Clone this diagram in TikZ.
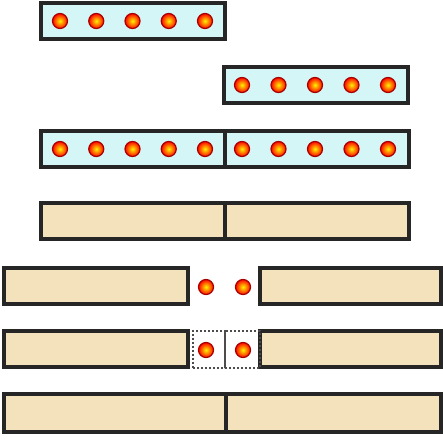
\documentclass[tikz,border=0pt]{standalone}
\usetikzlibrary{positioning}
\definecolor{iceblue}{RGB}{212,246,246}
\definecolor{sand}{RGB}{244,226,188}
\begin{document}
\begin{tikzpicture}[
    x=1pt, y=-1pt,
    bar/.style={draw=black!85, line width=3.4pt, minimum height=36pt, inner sep=0pt},
    bluebar/.style={bar, fill=iceblue, minimum width=184pt},
    sandbar/.style={bar, fill=sand},
    dot/.style={circle, inner sep=0pt, minimum size=15pt, draw=red!65!black, line width=1.2pt,
        inner color=yellow!90!orange, outer color=red!95!orange},
    gapbox/.style={draw=black!70, dash pattern=on 2pt off 2pt, line width=2pt,
        minimum height=37pt, inner sep=0pt}
]
\useasboundingbox (0,0) rectangle (443,441);

% row 1: left strand
\node[bluebar] (strA) at (133,21) {};
\foreach \i in {0,...,4}
    \node[dot] (dA\i) at (60+36.25*\i,21) {};

% row 2: right strand
\node[bluebar] (strB) at (316,85) {};
\foreach \i in {0,...,4}
    \node[dot] (dB\i) at (242+36.5*\i,85) {};

% row 3: both strands joined
\node[bluebar] (strCl) at (133,149) {};
\node[bluebar] (strCr) at (317,149) {};
\foreach \i in {0,...,4} {
    \node[dot] (dCl\i) at (60+36.25*\i,149) {};
    \node[dot] (dCr\i) at (242+36.5*\i,149) {};
}

% row 4: plain bars
\node[sandbar, minimum width=184pt] (barDl) at (133,221) {};
\node[sandbar, minimum width=184pt] (barDr) at (317,221) {};

% row 5: bars pulled apart
\node[sandbar, minimum width=184pt] (barEl) at (96,286) {};
\node[sandbar, minimum width=181pt] (barEr) at (350.5,286) {};
\node[dot] (dEl) at (206,287) {};
\node[dot] (dEr) at (243,287) {};

% row 6: gap filled
\node[sandbar, minimum width=184pt] (barFl) at (96,349) {};
\node[sandbar, minimum width=181pt] (barFr) at (350.5,349) {};
\node[gapbox, minimum width=32pt] (gapl) at (209,349) {};
\node[gapbox, minimum width=35pt] (gapr) at (242.5,349) {};
\node[dot] (dFl) at (206,350) {};
\node[dot] (dFr) at (243,350) {};

% row 7: full length
\node[sandbar, minimum width=222pt, minimum height=38pt] (barGl) at (115,413) {};
\node[sandbar, minimum width=215pt, minimum height=38pt] (barGr) at (333.5,413) {};
\end{tikzpicture}
\end{document}
